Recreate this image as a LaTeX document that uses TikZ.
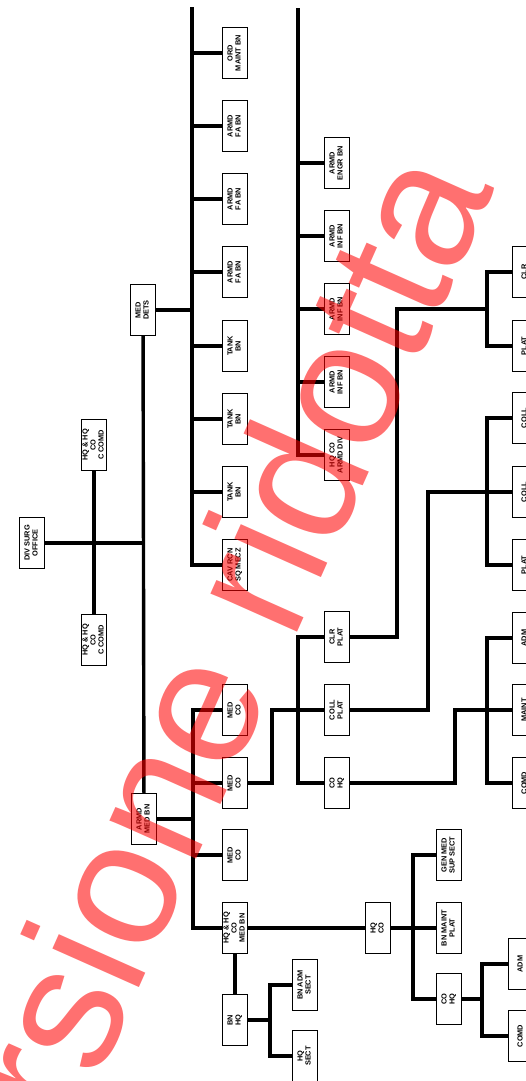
\documentclass[tikz,border=0pt]{standalone}
\usepackage{fontspec}
\setmainfont{Liberation Sans}
\usepackage{graphicx}
\newcommand{\vtext}[1]{\rotatebox{90}{\begin{tabular}{@{}c@{}}#1\end{tabular}}}

\begin{document}
\begin{tikzpicture}[x=0.5mm,y=-0.5mm,
  unit/.style={draw,line width=0.7mm,fill=white,inner sep=0pt,minimum width=12.5mm,minimum height=25.5mm,font=\fontsize{10.5}{11.5}\selectfont\bfseries},
  ln/.style={line width=1.7mm,line join=miter}]
\useasboundingbox (0,0) rectangle (526,1081);
% division level
\node[unit] (surg)  at (32,543)  {\vtext{DIV SURG\\OFFICE}};
\node[unit] (hqa)   at (94,445)  {\vtext{HQ \& HQ\\CO\\C COMD}};
\node[unit] (hqb)   at (94,640)  {\vtext{HQ \& HQ\\CO\\C COMD}};
\node[unit] (mdets) at (143,310) {\vtext{MED\\DETS}};
\node[unit] (medbn) at (144,819) {\vtext{ARMD\\MED BN}};
% supported units
\node[unit] (ord) at (235,53)  {\vtext{ORD\\MAINT BN}};
\node[unit] (fa1) at (235,126) {\vtext{ARMD\\FA BN}};
\node[unit] (fa2) at (235,199) {\vtext{ARMD\\FA BN}};
\node[unit] (fa3) at (235,272) {\vtext{ARMD\\FA BN}};
\node[unit] (tk1) at (235,346) {\vtext{TANK\\BN}};
\node[unit] (tk2) at (235,419) {\vtext{TANK\\BN}};
\node[unit] (tk3) at (235,492) {\vtext{TANK\\BN}};
\node[unit] (cav) at (235,565) {\vtext{CAV RCN\\SQ MECZ}};
\node[unit] (engr)  at (337,163) {\vtext{ARMD\\ENGR BN}};
\node[unit] (inf1)  at (337,236) {\vtext{ARMD\\INF BN}};
\node[unit] (inf2)  at (337,309) {\vtext{ARMD\\INF BN}};
\node[unit] (inf3)  at (337,382) {\vtext{ARMD\\INF BN}};
\node[unit] (hqdiv) at (337,455) {\vtext{HQ CO\\ARMD DIV}};
% medical battalion
\node[unit] (medco1) at (235,710) {\vtext{MED\\CO}};
\node[unit] (medco2) at (235,783) {\vtext{MED\\CO}};
\node[unit] (medco3) at (235,855) {\vtext{MED\\CO}};
\node[unit] (hqmed)  at (235,928) {\vtext{HQ \& HQ\\CO\\MED BN}};
\node[unit] (bnhq)   at (235,1020) {\vtext{BN\\HQ}};
\node[unit] (bnadm)  at (305,985)  {\vtext{BN ADM\\SECT}};
\node[unit] (hqsect) at (305,1056) {\vtext{HQ\\SECT}};
\node[unit] (clrplat)  at (337,637) {\vtext{CLR\\PLAT}};
\node[unit] (collplat) at (337,710) {\vtext{COLL\\PLAT}};
\node[unit] (cohq)     at (337,783) {\vtext{CO\\HQ}};
\node[unit] (hqco)    at (378,928) {\vtext{HQ\\CO}};
\node[unit] (gensup)  at (449,855) {\vtext{GEN MED\\SUP SECT}};
\node[unit] (bnmaint) at (449,928) {\vtext{BN MAINT\\PLAT}};
\node[unit] (cohq2)   at (449,999) {\vtext{CO\\HQ}};
% right edge (cut off)
\node[unit] (clr)   at (525,272) {\vtext{CLR\\ }};
\node[unit] (plat1) at (525,346) {\vtext{PLAT\\ }};
\node[unit] (coll1) at (525,418) {\vtext{COLL\\ }};
\node[unit] (coll2) at (525,492) {\vtext{COLL\\ }};
\node[unit] (plat2) at (525,565) {\vtext{PLAT\\ }};
\node[unit] (adm1)  at (525,638) {\vtext{ADM\\ }};
\node[unit] (maint) at (525,710) {\vtext{MAINT\\ }};
\node[unit] (comd1) at (525,783) {\vtext{COMD\\ }};
\node[unit] (adm2)  at (521,964) {\vtext{ADM\\ }};
\node[unit] (comd2) at (521,1036) {\vtext{COMD\\ }};
% bus points
\coordinate (cbus) at (192,7);
\coordinate (dbus) at (298,8);
\coordinate (mb) at (193,710);
\coordinate (jc) at (272,710);
\coordinate (pb) at (298,637);
\coordinate (r1) at (397,309);
\coordinate (rb1) at (487,309);
\coordinate (r2) at (428,492);
\coordinate (rb2) at (487,492);
\coordinate (r3) at (455,710);
\coordinate (rb3) at (487,710);
\coordinate (hb) at (413,928);
\coordinate (lb) at (482,999);
\coordinate (sb) at (270,1020);
% connectors
\draw[ln] (hqa) -- (hqb);
\draw[ln] (surg) -- (surg -| mdets);
\draw[ln] (mdets) -- (medbn);
\draw[ln] (mdets) -- (mdets -| cbus);
\draw[ln] (cbus) |- (cav);
\foreach \n in {ord,fa1,fa2,fa3,tk1,tk2,tk3}
  \draw[ln] (cbus |- \n) -- (\n);
\draw[ln] (dbus) |- (hqdiv);
\foreach \n in {engr,inf1,inf2,inf3}
  \draw[ln] (dbus |- \n) -- (\n);
\draw[ln] (medbn) -- (medbn -| mb);
\draw[ln] (medco1) -- (mb) |- (hqmed);
\foreach \n in {medco2,medco3}
  \draw[ln] (mb |- \n) -- (\n);
\draw[ln] (medco2) -| (jc) -- (collplat);
\draw[ln] (clrplat) -- (pb) |- (cohq);
\draw[ln] (clrplat) -| (r1) -- (rb1);
\draw[ln] (clr) -| (rb1) |- (plat1);
\draw[ln] (collplat) -| (r2) -- (rb2) -- (coll2);
\draw[ln] (coll1) -| (rb2) |- (plat2);
\draw[ln] (cohq) -| (r3) -- (rb3) -- (maint);
\draw[ln] (adm1) -| (rb3) |- (comd1);
\draw[ln] (hqmed) -- (hqco);
\draw[ln] (hqco) -- (hb) -- (bnmaint);
\draw[ln] (gensup) -| (hb) |- (cohq2);
\draw[ln] (cohq2) -- (lb);
\draw[ln] (adm2) -| (lb) |- (comd2);
\draw[ln] (hqmed) -- (bnhq);
\draw[ln] (bnhq) -- (sb);
\draw[ln] (bnadm) -| (sb) |- (hqsect);
% watermark
\node[red,opacity=0.56,text opacity=0.56,rotate=66,anchor=base,inner sep=0pt,
  font=\fontsize{255}{255}\selectfont] (wm) at (242,757) {Versione ridotta};
\end{tikzpicture}
\end{document}
